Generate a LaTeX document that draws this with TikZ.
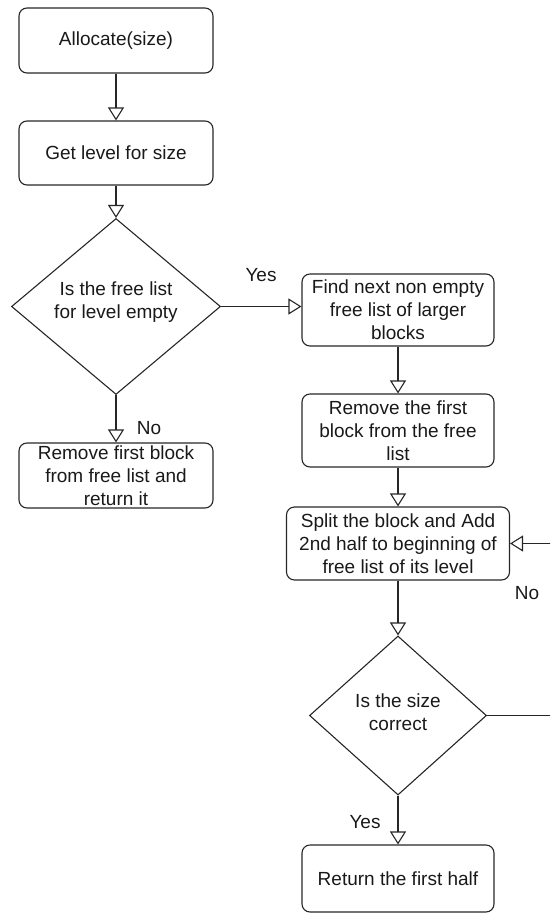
\documentclass[tikz,border=0pt]{standalone}
\usepackage{fontspec}
\setmainfont{Liberation Sans}
\usetikzlibrary{arrows.meta,shapes.geometric}
\begin{document}
\begin{tikzpicture}[x=1pt,y=-1pt,
  every node/.style={font=\fontsize{19}{23}\selectfont, text=black!90},
  stepbox/.style={draw=black!85, rounded corners=8pt, inner sep=0pt, align=center, line width=1.1pt},
  decision/.style={draw=black!85, diamond, inner sep=0pt, line width=1.1pt},
  caption/.style={align=center, inner sep=0pt},
  flow/.style={draw=black!85, line width=1.1pt, -{Triangle[open, length=13pt, width=16pt]}},
  edgelabel/.style={inner sep=0pt}]
\clip (0,0) rectangle (550,915);

% left column
\node[stepbox, minimum width=194pt, minimum height=65pt] (alloc) at (116,40.5) {Allocate(size)};
\node[stepbox, minimum width=194pt, minimum height=64pt] (level) at (116,153) {Get level for size};
\node[decision, minimum width=209pt, minimum height=176pt] (empty) at (116,306.5) {};
\node[caption] (emptytext) at (116,302) {Is the free list\\for level empty};
\node[stepbox, minimum width=194pt, minimum height=65pt] (take) at (116,475.5) {Remove first block\\from free list and\\return it};

% right column
\node[stepbox, minimum width=192pt, minimum height=72pt] (find) at (398,310) {Find next non empty\\free list of larger\\blocks};
\node[stepbox, minimum width=192pt, minimum height=73pt] (remove) at (398,430.5) {Remove the first\\block from the free\\list};
\node[stepbox, minimum width=223pt, minimum height=73pt] (split) at (398,543.5) {Split the block and Add\\2nd half to beginning of\\free list of its level};
\node[decision, minimum width=177pt, minimum height=159pt] (size) at (398,715.5) {};
\node[caption] (sizetext) at (398,712) {Is the size\\correct};
\node[stepbox, minimum width=192pt, minimum height=67pt] (ret) at (398,878.5) {Return the first half};

% connectors
\draw[flow] (alloc.south) -- (level.north);
\draw[flow] (level.south) -- (empty.north);
\draw[flow] (empty.south) -- (take.north);
\draw[flow] (empty.east) -- (empty.east -| find.west);
\draw[flow] (find.south) -- (remove.north);
\draw[flow] (remove.south) -- (split.north);
\draw[flow] (split.south) -- (size.north);
\draw[flow] (size.south) -- (ret.north);
\coordinate (loopcorner) at (558,715.5);
\draw[flow] (size.east) -- (loopcorner) |- (split.east);

% branch labels
\node[edgelabel] (yesA) at (261,275) {Yes};
\node[edgelabel] (noA) at (149,428) {No};
\node[edgelabel] (noB) at (527,593) {No};
\node[edgelabel] (yesB) at (365,822) {Yes};
\end{tikzpicture}
\end{document}
